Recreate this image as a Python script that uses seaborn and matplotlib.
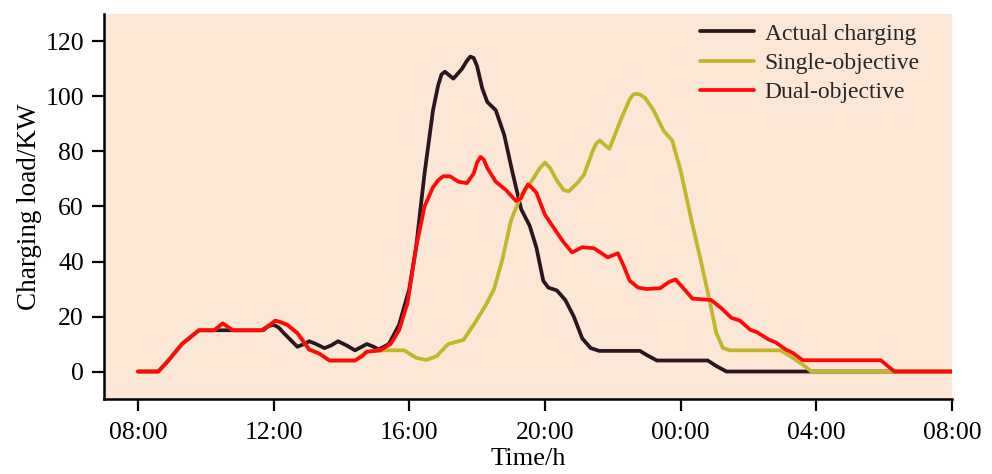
import numpy as np
import pandas as pd
import matplotlib
matplotlib.use("Agg")
import matplotlib.pyplot as plt
import seaborn as sns

# ---- data (hours since 00:00 of day 1; 24+ = next day) ----
actual_t = [8.0, 8.6, 8.9, 9.3, 9.8, 10.2, 11.7, 11.85, 12.0, 12.15, 12.3, 12.7, 12.9, 13.05, 13.25,
            13.5, 13.7, 13.9, 14.15, 14.4, 14.6, 14.75, 14.95,
            15.1, 15.4, 15.7, 16.0, 16.2, 16.45, 16.7, 16.85, 16.95, 17.05, 17.15, 17.3, 17.55,
            17.7, 17.8, 17.9, 18.0, 18.15,
            18.3, 18.55, 18.8, 19.05, 19.3, 19.55, 19.75, 19.95, 20.1, 20.35, 20.6, 20.85, 21.1,
            21.35, 21.6, 22.8, 23.0, 23.3, 24.8, 25.05, 25.35, 32.0]
actual_v = [0, 0, 4, 10, 15, 15, 15, 16.5, 17, 16, 14, 9, 10, 11, 10,
            8.5, 9.5, 11, 9.5, 7.7, 9, 10, 9,
            8, 10, 17, 30, 45, 72, 95, 104, 108, 109, 108, 106.5, 110,
            113, 114.5, 114, 111, 103,
            98, 95, 86, 72, 59, 53, 45, 33, 30.5, 29.5, 26, 20, 12,
            8.5, 7.5, 7.5, 6, 4, 4, 2, 0, 0]

single_t = [8.0, 8.6, 8.9, 9.3, 9.8, 10.25, 10.5, 10.8, 11.65, 12.05, 12.4, 12.7, 13.05, 13.35,
            13.65, 14.4, 14.75, 15.1, 15.85, 16.2, 16.5, 16.8, 17.15, 17.6, 17.95, 18.25, 18.5,
            18.75, 19.0, 19.3, 19.65, 19.85, 20.0, 20.15, 20.35, 20.55, 20.7, 20.95, 21.15, 21.4,
            21.52, 21.62, 21.75, 21.9, 22.25,
            22.5, 22.6, 22.7, 22.8, 22.95, 23.2, 23.5, 23.75, 24.0, 24.3, 24.6, 24.85, 25.05, 25.25,
            25.45, 26.95, 27.3, 27.6, 27.85, 32.0]
single_v = [0, 0, 4, 10, 15, 15, 17.5, 15, 15, 18.5, 17, 14, 8, 6.5,
            4, 4, 7.2, 7.7, 7.7, 5, 4.2, 5.5, 10, 11.5, 18, 24, 30,
            41, 55, 64, 70, 74, 76, 74, 69.5, 66, 65.5, 68.5, 71.5, 80,
            83, 84, 82.5, 81, 92,
            99, 100.7, 101, 100.7, 99.5, 95, 87.5, 84, 73, 56, 40, 26, 14, 8.5,
            7.7, 7.7, 5, 2.5, 0, 0]

dual_t = [8.0, 8.6, 8.9, 9.3, 9.8, 10.25, 10.5, 10.8, 11.65, 11.9, 12.05, 12.2, 12.4, 12.7, 13.05,
          13.35, 13.65, 14.4, 14.6, 14.75, 15.15, 15.45, 15.7, 15.95, 16.2, 16.45, 16.7, 16.85,
          17.0, 17.2, 17.45, 17.7, 17.9, 18.0, 18.1, 18.2, 18.3, 18.55, 18.85, 19.15, 19.3, 19.4,
          19.5, 19.6, 19.75, 20.0, 20.3, 20.55, 20.8, 21.1, 21.45, 21.85, 22.05, 22.15, 22.3,
          22.5, 22.75, 23.0, 23.4, 23.65, 23.85, 24.1, 24.35, 24.9, 25.2, 25.5, 25.75, 26.05,
          26.25, 26.6, 26.8, 27.1, 27.3, 27.6, 29.9, 30.3, 32.0]
dual_v = [0, 0, 4, 10, 15, 15, 17.5, 15, 15, 17, 18.5, 18, 17, 14, 8,
          6.5, 4, 4, 5.5, 7.2, 7.7, 10, 15, 25, 45, 60, 67, 69.5,
          71, 71, 69, 68.5, 72, 76, 78, 77, 74, 69, 66, 62, 63, 66,
          68, 67, 65, 57, 51.5, 47, 43.3, 45.2, 44.8, 41.5, 42.5, 43, 39,
          33, 30.5, 30, 30.3, 32.5, 33.5, 30, 26.5, 26, 23, 19.5, 18.5, 15.2,
          14.3, 11.6, 10.6, 8, 6.8, 4.1, 4.1, 0, 0]

series_names = ["Actual charging", "Single-objective", "Dual-objective"]
series_colors = ["#2b1620", "#c2b72a", "#ff0a0a"]
x_ticks = [8, 12, 16, 20, 24, 28, 32]
x_tick_labels = ["08:00", "12:00", "16:00", "20:00", "00:00", "04:00", "08:00"]
y_ticks = [0, 20, 40, 60, 80, 100, 120]

frames = []
for name, t, v in zip(series_names, [actual_t, single_t, dual_t], [actual_v, single_v, dual_v]):
    frames.append(pd.DataFrame({"time": t, "load": v, "series": name}))
df = pd.concat(frames, ignore_index=True)

sns.set_theme(style="ticks")
plt.rcParams["font.family"] = ["Liberation Serif", "DejaVu Serif"]

fig = plt.figure(figsize=(9.92, 4.74), dpi=100)
ax = fig.add_axes([0.1048, 0.1582, 0.9597 - 0.1048, 0.9705 - 0.1582])
ax.set_facecolor("#fce6d5")

sns.lineplot(data=df, x="time", y="load", hue="series", hue_order=series_names,
             palette=dict(zip(series_names, series_colors)), sort=False, estimator=None,
             units="series", linewidth=2.7, ax=ax)
for ln in ax.get_lines():
    ln.set_solid_joinstyle("round")
    ln.set_solid_capstyle("round")

ax.set_xlim(7, 32)
ax.set_ylim(-10, 130)
ax.set_xticks(x_ticks)
ax.set_xticklabels(x_tick_labels)
ax.set_yticks(y_ticks)
ax.tick_params(axis="both", labelsize=18.5, length=8.5, width=1.6, color="black", labelcolor="black")
ax.tick_params(axis="y", pad=6)
ax.tick_params(axis="x", pad=8)
for s in ["top", "right"]:
    ax.spines[s].set_visible(False)
for s in ["left", "bottom"]:
    ax.spines[s].set_linewidth(1.8)
    ax.spines[s].set_color("black")

ax.set_xlabel("Time/h", fontsize=19, labelpad=3, color="black")
ax.set_ylabel("Charging load/KW", fontsize=19.5, labelpad=2, color="black")

leg = ax.legend(loc="upper right", frameon=False, fontsize=17, handlelength=2.3,
                handletextpad=0.45, labelspacing=0.32, borderaxespad=0, borderpad=0,
                bbox_to_anchor=(0.962, 0.976))
for line in leg.get_lines():
    line.set_linewidth(2.7)

fig.savefig("out.png", dpi=100, facecolor="white")
